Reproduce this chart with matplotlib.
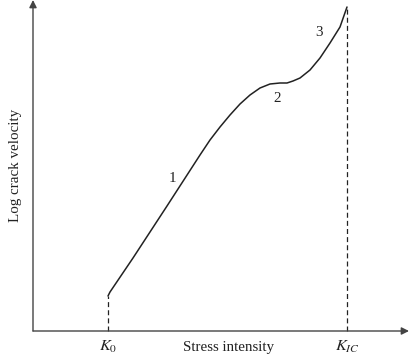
"""Schematic crack velocity vs stress intensity (three regions)."""
import numpy as np
import matplotlib
matplotlib.use("Agg")
import matplotlib.pyplot as plt

plt.rcParams.update({
    "font.family": ["Liberation Serif", "DejaVu Serif"],
    "mathtext.fontset": "stix",
    "font.size": 10.8,
})

# curve (x: stress intensity, y: log crack velocity)
curve_x = [75, 77, 100, 134, 167, 177, 187, 197, 207, 217, 227, 237,
           247, 254, 260, 267, 277, 287, 297, 307, 314]
curve_y = [35, 39, 73, 125, 176, 191, 204, 216, 227, 236, 243, 247,
           248, 248, 250, 253, 261, 273, 288, 304, 324]
k0, kic = 75, 314
region_labels = ["1", "2", "3"]
region_x = [139, 244, 286]
region_y = [152, 232, 298]

INK = "#222222"
fig = plt.figure(figsize=(4.11, 3.55), dpi=100)
ax = fig.add_axes([0, 0, 1, 1])
ax.set_xlim(-33, 378)
ax.set_ylim(-24, 331)
ax.set_axis_off()

# axes with arrow heads
ax.annotate("", xy=(376, 0), xytext=(0, 0),
            arrowprops=dict(arrowstyle="-|>", color="#444444", lw=1.0,
                            mutation_scale=11, shrinkA=0, shrinkB=0))
ax.annotate("", xy=(0, 331), xytext=(0, 0),
            arrowprops=dict(arrowstyle="-|>", color="#444444", lw=1.0,
                            mutation_scale=11, shrinkA=0, shrinkB=0))

ax.plot(curve_x, curve_y, color=INK, lw=1.1, solid_joinstyle="round",
        solid_capstyle="round")
ax.plot([k0, k0], [0, curve_y[0]], color=INK, lw=0.9, ls=(0, (4, 2.5)))
ax.plot([kic, kic], [0, curve_y[-1]], color=INK, lw=0.9, ls=(0, (4, 2.5)))

for s, x, y in zip(region_labels, region_x, region_y):
    ax.text(x, y, s, ha="center", va="center", color=INK)

ax.text(k0, -16, "$K_0$", ha="center", va="center", color=INK, fontsize=11.8)
ax.text(kic, -16, "$K_{IC}$", ha="center", va="center", color=INK,
        fontsize=11.8)
ax.text(195, -16, "Stress intensity", ha="center", va="center", color=INK)
ax.text(-17, 166, "Log crack velocity", rotation=90, ha="center",
        va="center", color=INK)

fig.savefig("out.png", dpi=100)
plt.close(fig)
